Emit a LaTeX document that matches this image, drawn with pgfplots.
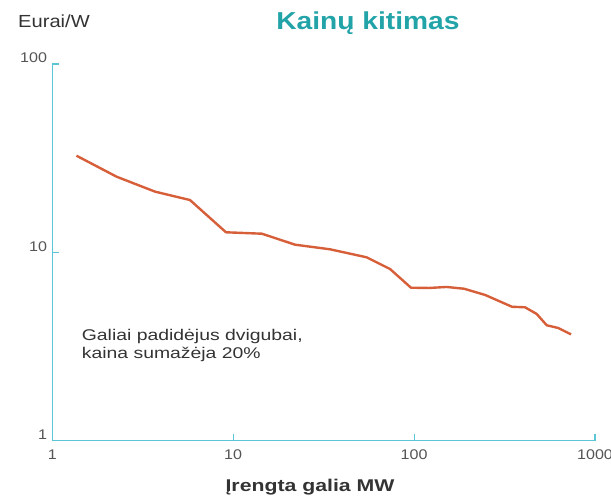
\documentclass[border=0pt]{standalone}
\usepackage{pgfplots}
\pgfplotsset{compat=1.18}
\usepackage{fontspec}
\setmainfont{Liberation Sans}[FakeStretch=1.15]
\newfontfamily\widefont{Liberation Sans}[FakeStretch=1.25]
\definecolor{axcol}{HTML}{5BC6D6}
\definecolor{titlecol}{HTML}{22A3A8}
\definecolor{curvecol}{HTML}{D65F3A}
\definecolor{txtcol}{HTML}{333333}
\definecolor{tickcol}{HTML}{555555}
\begin{document}
\begin{tikzpicture}
\useasboundingbox (0bp,0bp) rectangle (611bp,499bp);
\begin{axis}[
  at={(52.3bp,58.3bp)}, anchor=origin,
  scale only axis, width=542.7bp, height=376.7bp,
  xmode=log, ymode=log,
  xmin=1, xmax=1000, ymin=1, ymax=100,
  axis lines=left,
  axis line style={-, draw=axcol, line width=1.4bp},
  xtick={1,10,100,1000}, ytick={1,10,100},
  xticklabels={1,10,100,1000},
  yticklabels={1,10,100},
  xminorticks=false, yminorticks=false,
  tick align=inside,
  major tick length=7bp,
  tick style={draw=axcol, line width=1.2bp},
  /pgf/number format/assume math mode=true,
  tick label style={font=\fontsize{14bp}{16bp}\selectfont, text=tickcol},
  xticklabel style={anchor=north, yshift=-6bp},
  yticklabel style={anchor=base east, inner sep=0pt, xshift=-5bp, yshift=1bp},
  clip=false,
]
\addplot[color=curvecol, line width=2.4bp, line join=round] coordinates {
(1.36,32.6) (2.27,25.2) (3.70,21.0) (5.77,18.96) (9.12,12.78) (14.4,12.56)
(22.0,10.98) (34.3,10.38) (54.7,9.41) (73.6,8.16) (96.1,6.49) (121,6.47)
(151,6.55) (189,6.41) (247,5.94) (348,5.14) (410,5.11) (476,4.71)
(541,4.10) (625,3.97) (737,3.67)
};
\end{axis}
\node[anchor=base, inner sep=0, text=titlecol, font=\bfseries\fontsize{24.5bp}{28bp}\selectfont] at (368bp,469.7bp) {Kainų kitimas};
\node[anchor=base west, inner sep=0, text=txtcol, font=\fontsize{17.5bp}{20bp}\selectfont] at (18bp,471.7bp) {Eurai/W};
\node[anchor=base, inner sep=0, text=txtcol, font=\widefont\bfseries\fontsize{17bp}{20bp}\selectfont] at (310bp,7.3bp) {Įrengta galia MW};
\node[anchor=base west, inner sep=0, align=left, text=txtcol, font=\widefont\fontsize{15.5bp}{18.3bp}\selectfont] at (81.7bp,140bp) {Galiai padidėjus dvigubai,\\kaina sumažėja 20\%};
\end{tikzpicture}
\end{document}
